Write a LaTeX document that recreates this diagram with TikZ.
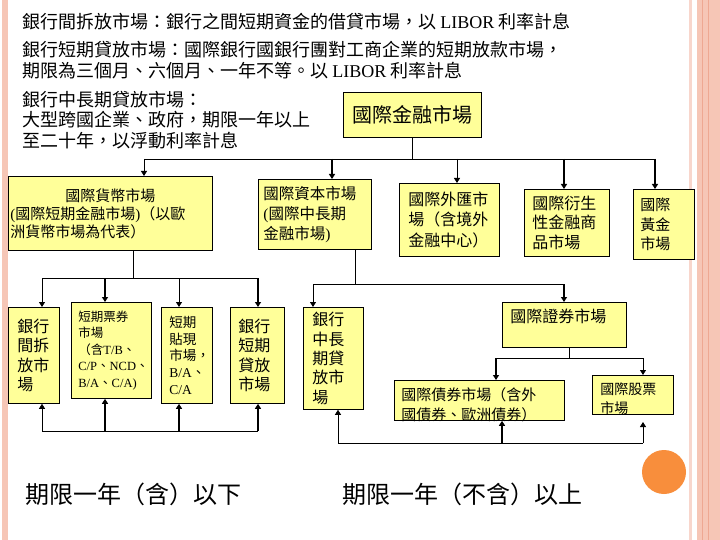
\documentclass[tikz,border=0pt]{standalone}
\usepackage{fontspec}
\setmainfont{Noto Sans CJK TC}
\newfontfamily\lat{Liberation Serif}
\usetikzlibrary{arrows.meta}
\definecolor{boxyellow}{RGB}{255,255,153}
\definecolor{edgepink}{RGB}{246,198,182}
\definecolor{edgepinkL}{RGB}{248,214,204}
\definecolor{edgepinkD}{RGB}{238,168,146}
\definecolor{dotorange}{RGB}{248,142,60}
\def\fs#1#2{\fontsize{#1}{#2}\selectfont}
\newcommand{\en}[1]{{\lat #1}}

\begin{document}
\begin{tikzpicture}[x=1pt,y=-1pt,line width=0.8pt,
	mkt/.style={draw,fill=boxyellow,anchor=north west,align=left,inner ysep=0pt},
	txt/.style={anchor=west,align=left,inner sep=0pt},
	arr/.style={-{Triangle[length=5pt,width=6pt]}},
	fat/.style={line width=1.6pt}]
			%%%%% START %%%%%
			\useasboundingbox (0,0) rectangle (720,540);
			\fill[white] (0,0) rectangle (720,540);
			\fill[edgepink] (2,0) rectangle (7.5,540);
			\fill[edgepinkL] (689,0) rectangle (692,540);
			\fill[edgepink] (697,0) rectangle (720,540);
			\draw[edgepinkD,line width=1pt] (702,0) -- (702,540);
			\draw[edgepinkD,line width=1pt] (708,0) -- (708,540);
			\fill[dotorange] (664,472) circle (22pt);
			
			\node[txt,font=\fs{18}{21}] (t1) at (22,22) {銀行間拆放市場：銀行之間短期資金的借貸市場，以 \en{LIBOR} 利率計息};
			\node[txt,font=\fs{18}{21}] (t2) at (22,60) {銀行短期貸放市場：國際銀行國銀行團對工商企業的短期放款市場，\\期限為三個月、六個月、一年不等。以 \en{LIBOR} 利率計息};
			\node[txt,font=\fs{18}{20.5}] (t3) at (22,120) {銀行中長期貸放市場：\\大型跨國企業、政府，期限一年以上\\至二十年，以浮動利率計息};
			
			\node[mkt,align=center,inner xsep=7pt,text width=124pt,minimum height=45pt,font=\fs{20}{24}] (ifm) at (343,92) {國際金融市場};
			
			\node[mkt,inner xsep=2pt,text width=200pt,minimum height=74pt,font=\fs{15}{18}] (money) at (8,176) {{\centering 國際貨幣市場\par}\en{(}國際短期金融市場\en{)}（以歐\\洲貨幣市場為代表）};
			\node[mkt,inner xsep=5pt,text width=103pt,minimum height=70pt,font=\fs{15.5}{20}] (capital) at (258,179) {國際資本市場\\\en{(}國際中長期\\金融市場\en{)}};
			\node[mkt,inner xsep=9pt,text width=82pt,minimum height=73pt,font=\fs{16}{20.5}] (fx) at (399,183) {國際外匯市\\場（含境外\\金融中心）};
			\node[mkt,inner xsep=8pt,text width=69pt,minimum height=67pt,font=\fs{16}{19.5}] (deriv) at (524,189) {國際衍生\\性金融商\\品市場};
			\node[mkt,inner xsep=7pt,text width=47pt,minimum height=70pt,font=\fs{15}{19.5}] (gold) at (633,189) {國際\\黃金\\市場};
			
			\node[mkt,inner xsep=9pt,text width=33pt,minimum height=96pt,font=\fs{16}{19.5}] (ib) at (8,307) {銀行\\間拆\\放市\\場};
			\node[mkt,inner xsep=7pt,text width=66pt,minimum height=96pt,font=\fs{12.5}{16.5}] (cp) at (71,302) {短期票券\\市場\\（含\en{T/B}、\\\en{C/P}、\en{NCD}、\\\en{B/A}、\en{C/A)}};
			\node[mkt,inner xsep=8pt,text width=35pt,minimum height=96pt,font=\fs{13.5}{16.7}] (disc) at (161,307) {短期\\貼現\\市場，\\\en{B/A}、\\\en{C/A}};
			\node[mkt,inner xsep=8pt,text width=38pt,minimum height=96pt,font=\fs{16}{19.5}] (sl) at (230,307) {銀行\\短期\\貸放\\市場};
			\node[mkt,inner xsep=9pt,text width=42pt,minimum height=102pt,font=\fs{16}{19.3}] (ml) at (303,307) {銀行\\中長\\期貸\\放市\\場};
			
			\node[mkt,inner xsep=8pt,text width=108pt,minimum height=45pt,font=\fs{16}{19}] (sec) at (502,302) {國際證券市場\\\mbox{}};
			\node[mkt,inner xsep=7pt,text width=156pt,minimum height=40pt,text depth=12pt,font=\fs{15}{20}] (bond) at (394,380) {國際債券市場（含外\\國債券、歐洲債券）};
			\node[mkt,inner xsep=8pt,text width=65pt,minimum height=39pt,text depth=12pt,font=\fs{14}{19}] (stock) at (592,375) {國際股票\\市場};
			
			\node[txt,font=\fs{24}{28}] (short) at (25,494) {期限一年（含）以下};
			\node[txt,font=\fs{24}{28}] (long) at (342,494) {期限一年（不含）以上};
			
			% top bus
			\coordinate (busA) at (144,159);
			\coordinate (busB) at (332,159);
			\coordinate (busC) at (457,159);
			\coordinate (busD) at (564,159);
			\coordinate (busE) at (655,159);
			\draw (ifm.south) -- (ifm.south |- busA);
			\draw (busA) -- (busE);
			\draw[arr] (busA) -- (busA |- money.north);
			\draw[arr,fat] (busB) -- (busB |- capital.north);
			\draw[arr] (busC) -- (busC |- fx.north);
			\draw[arr,fat] (busD) -- (busD |- deriv.north);
			\draw[arr,fat] (busE) -- (busE |- gold.north);
			
			% money market
			\coordinate (mJ) at (133,278);
			\coordinate (mA) at (42,278);
			\coordinate (mB) at (105,278);
			\coordinate (mC) at (179,278);
			\coordinate (mD) at (258,278);
			\draw (mJ |- money.south) -- (mJ);
			\draw (mA) -- (mD);
			\draw[arr] (mA) -- (mA |- ib.north);
			\draw[arr,fat] (mB) -- (mB |- cp.north);
			\draw[arr] (mC) -- (mC |- disc.north);
			\draw[arr,fat] (mD) -- (mD |- sl.north);
			
			\coordinate (nA) at (42,431);
			\coordinate (nB) at (105,431);
			\coordinate (nC) at (179,431);
			\coordinate (nD) at (258,431);
			\draw (nA) -- (nD);
			\draw[arr] (nA) -- (nA |- ib.south);
			\draw[arr,fat] (nB) -- (nB |- cp.south);
			\draw[arr,fat] (nC) -- (nC |- disc.south);
			\draw[arr,fat] (nD) -- (nD |- sl.south);
			
			% capital market
			\coordinate (kJ) at (355,284);
			\coordinate (kA) at (313,284);
			\coordinate (kB) at (564,284);
			\draw (kJ |- capital.south) -- (kJ);
			\draw (kA) -- (kB);
			\draw[arr] (kA) -- (kA |- ml.north);
			\draw[arr,fat] (kB) -- (kB |- sec.north);
			
			\coordinate (sJ) at (569,358);
			\coordinate (sA) at (496,358);
			\coordinate (sB) at (643,358);
			\draw (sJ |- sec.south) -- (sJ);
			\draw (sA) -- (sB);
			\draw[arr,fat] (sA) -- (sA |- bond.north);
			\draw[arr] (sB) -- (sB |- stock.north);
			
			\coordinate (rA) at (338,443);
			\coordinate (rB) at (502,443);
			\coordinate (rC) at (643,443);
			\coordinate (rT) at (643,422);
			\draw (rA) -- (rC);
			\draw[arr] (rA) -- (rA |- ml.south);
			\draw[arr,fat] (rB) -- (rB |- bond.south);
			\draw[arr] (rC) -- (rT);
			%%%%% END %%%%%
\end{tikzpicture}
\end{document}
